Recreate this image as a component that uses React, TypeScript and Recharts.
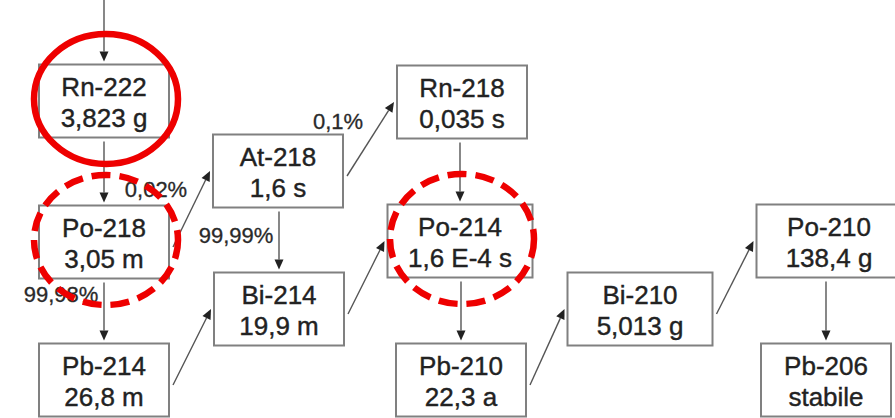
import { ScatterChart, Scatter, XAxis, YAxis, ReferenceLine } from "recharts";

// decay chain of Rn-222 (diagram units = pixels of the 895x418 picture)
const nuclides = ["Rn-222", "At-218", "Po-218", "Bi-214", "Pb-214", "Rn-218", "Po-214", "Pb-210", "Bi-210", "Po-210", "Pb-206"];
const halfLives = ["3,823 g", "1,6 s", "3,05 m", "19,9 m", "26,8 m", "0,035 s", "1,6 E-4 s", "22,3 a", "5,013 g", "138,4 g", "stabile"];
const nodeX = [104, 278, 104, 279, 104, 462, 460, 461, 640, 829, 826];
const nodeY = [101, 171, 242, 309, 380, 102, 241, 380, 309, 241, 380];

const decayFrom = ["", "Rn-222", "Po-218", "Po-218", "At-218", "At-218", "Pb-214", "Bi-214", "Rn-218", "Po-214", "Pb-210", "Bi-210", "Po-210"];
const decayTo = ["Rn-222", "Po-218", "At-218", "Pb-214", "Bi-214", "Rn-218", "Bi-214", "Po-214", "Po-214", "Pb-210", "Bi-210", "Po-210", "Pb-206"];

const branchLabels = ["0,02%", "99,99%", "99,98%", "0,1%"];
const branchX = [156, 236, 61, 338];
const branchY = [197, 243, 302, 129];

const highlightOf = ["Rn-222", "Po-218", "Po-214"];
const highlightDashed = [false, true, true];

const WIDE = new Set(["Po-214", "Bi-210", "Po-210"]);
const BOX_H = 73;
const FONT = "'Liberation Sans', Arial, sans-serif";

const nodes = nuclides.map((name, i) => ({ name, life: halfLives[i], x: nodeX[i], y: nodeY[i] }));
const byName = new Map(nodes.map((n) => [n.name, n]));
const boxW = (name: string) => (WIDE.has(name) ? 145 : 130);

const links = decayTo.map((to, i) => {
  const t = byName.get(to)!;
  const s = byName.get(decayFrom[i]);
  if (!s) return [{ x: t.x, y: 0 }, { x: t.x, y: t.y - BOX_H / 2 - 3 }];
  if (Math.abs(s.x - t.x) < 20) {
    return [
      { x: t.x, y: s.y + BOX_H / 2 + 4 },
      { x: t.x, y: t.y - BOX_H / 2 - 3 },
    ];
  }
  return [
    { x: s.x + boxW(s.name) / 2 + 4, y: s.y + 5 },
    { x: t.x - boxW(t.name) / 2 - 3, y: t.y },
  ];
});

const labels = branchLabels.map((text, i) => ({ text, x: branchX[i], y: branchY[i] }));
const highlights = highlightOf.map((name, i) => {
  const n = byName.get(name)!;
  return { x: n.x + 2, y: n.y - 2, dashed: highlightDashed[i] };
});

function NodeBox(props: any) {
  const { cx, cy, payload } = props;
  const w = boxW(payload.name);
  const txt = { textAnchor: "middle" as const, fontFamily: FONT, fontSize: 26, fill: "#222", stroke: "#222", strokeWidth: 0.4 };
  return (
    <g>
      <rect x={cx - w / 2} y={cy - BOX_H / 2} width={w} height={BOX_H} fill="#fff" stroke="#808080" strokeWidth={2} />
      <text x={cx} y={cy - 5} {...txt}>
        {payload.name}
      </text>
      <text x={cx} y={cy + 26} {...txt}>
        {payload.life}
      </text>
    </g>
  );
}

function Arrow(props: any) {
  const { x1, y1, x2, y2 } = props;
  const a = Math.atan2(y2 - y1, x2 - x1);
  const L = 10;
  const W = 4.5;
  const bx = x2 - L * Math.cos(a);
  const by = y2 - L * Math.sin(a);
  const p1 = `${bx - W * Math.sin(a)},${by + W * Math.cos(a)}`;
  const p2 = `${bx + W * Math.sin(a)},${by - W * Math.cos(a)}`;
  return (
    <g>
      <line x1={x1} y1={y1} x2={bx} y2={by} stroke="#555" strokeWidth={1.4} />
      <polygon points={`${x2},${y2} ${p1} ${p2}`} fill="#222" />
    </g>
  );
}

function BranchLabel(props: any) {
  const { cx, cy, payload } = props;
  return (
    <text x={cx} y={cy} textAnchor="middle" fontFamily={FONT} fontSize={22} fill="#2a2a2a" stroke="#2a2a2a" strokeWidth={0.3}>
      {payload.text}
    </text>
  );
}

function Highlight(props: any) {
  const { cx, cy, payload } = props;
  return (
    <ellipse
      cx={cx}
      cy={cy}
      rx={72}
      ry={65}
      fill="none"
      stroke="#ee0000"
      strokeWidth={6.5}
      strokeDasharray={payload.dashed ? "19 9" : undefined}
    />
  );
}

export default function App() {
  return (
    <div style={{ position: "absolute", left: 0, top: 0, width: 895, height: 418, background: "#fff", overflow: "hidden" }}>
      <ScatterChart width={895} height={418} margin={{ top: 0, right: 0, bottom: 0, left: 0 }}>
        <XAxis type="number" dataKey="x" domain={[0, 895]} hide />
        <YAxis type="number" dataKey="y" domain={[0, 418]} reversed hide />
        <Scatter data={nodes} shape={NodeBox} isAnimationActive={false} />
        {links.map((seg, i) => (
          <ReferenceLine key={i} segment={seg} shape={Arrow} ifOverflow="visible" />
        ))}
        <Scatter data={labels} shape={BranchLabel} isAnimationActive={false} />
        <Scatter data={highlights} shape={Highlight} isAnimationActive={false} />
      </ScatterChart>
    </div>
  );
}
